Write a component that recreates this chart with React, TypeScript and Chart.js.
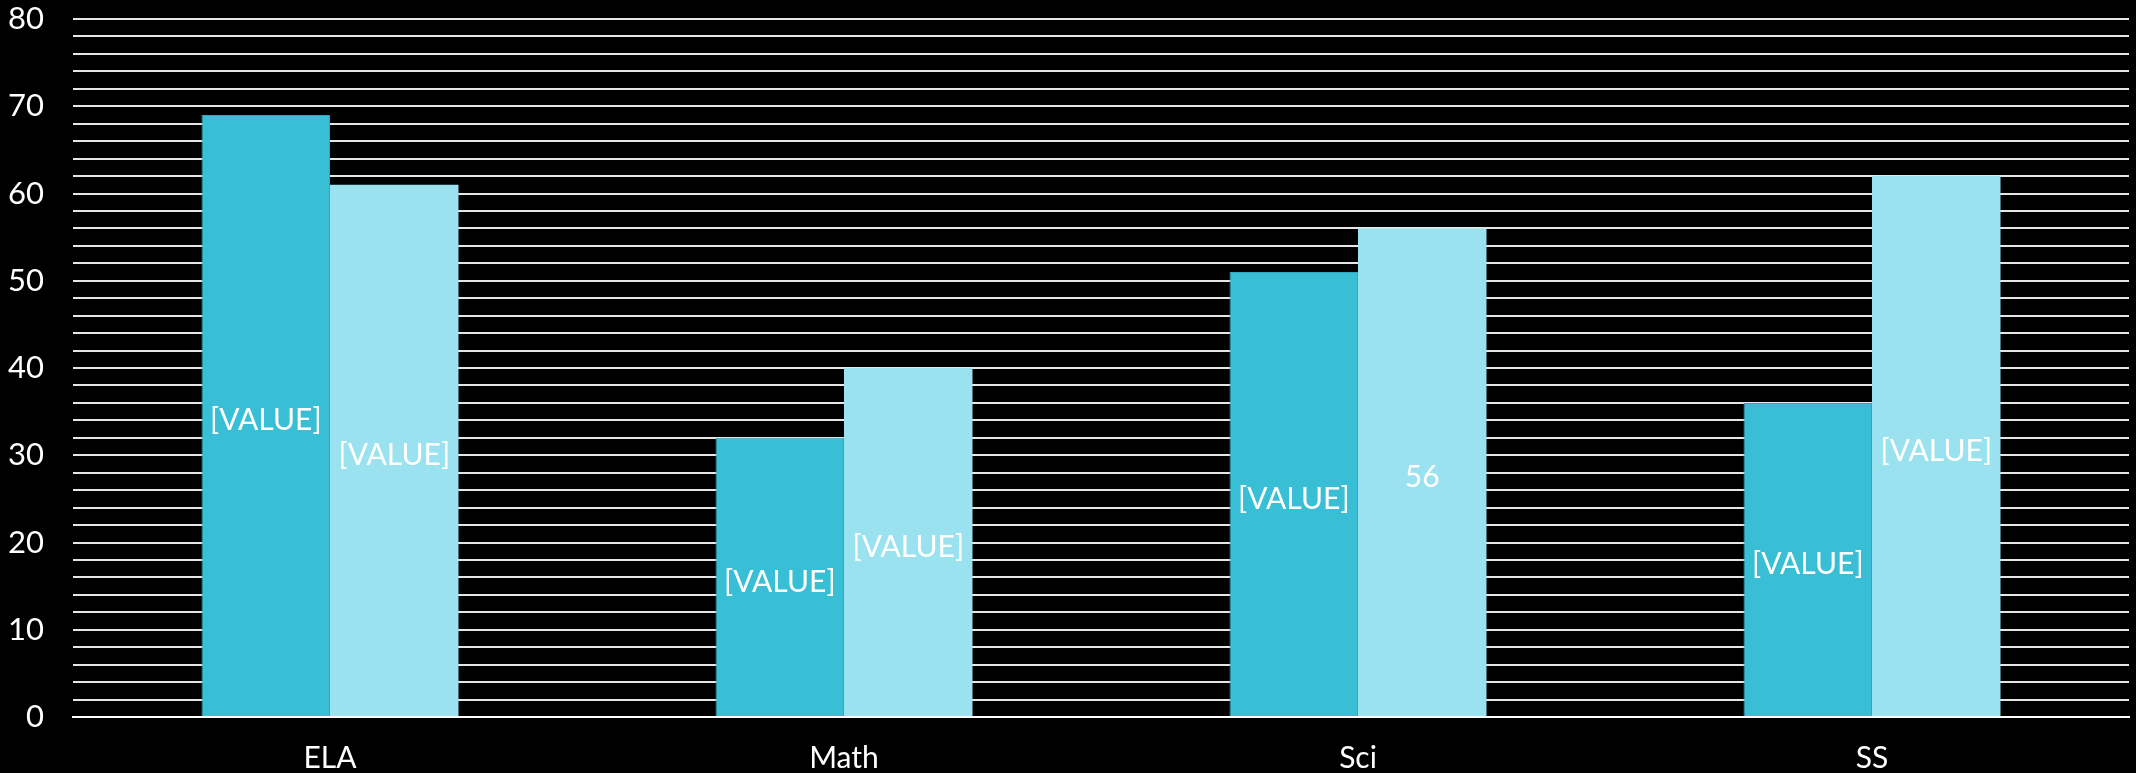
import React, { useEffect, useRef } from "react";
import { Chart, registerables } from "chart.js";

Chart.register(...registerables);

const categories = ["ELA", "Math", "Sci", "SS"];
const series1Values = [69, 32, 51, 36];
const series2Values = [61, 40, 56, 62];
const series1Labels = ["[VALUE]", "[VALUE]", "[VALUE]", "[VALUE]"];
const series2Labels = ["[VALUE]", "[VALUE]", "56", "[VALUE]"];
const yMin = 0;
const yMax = 80;
const yStep = 2;
const yLabelStep = 10;

const FONT = "Lato, 'Open Sans', sans-serif";

const barLabelPlugin = {
  id: "barLabels",
  afterDatasetsDraw(chart: any) {
    const ctx = chart.ctx;
    const allLabels = [series1Labels, series2Labels];
    ctx.save();
    ctx.font = `30px ${FONT}`;
    ctx.fillStyle = "#ffffff";
    ctx.textAlign = "center";
    ctx.textBaseline = "middle";
    chart.data.datasets.forEach((_ds: any, di: number) => {
      const meta = chart.getDatasetMeta(di);
      meta.data.forEach((el: any, i: number) => {
        const y = (el.y + el.base) / 2 + 5;
        ctx.fillText(allLabels[di][i], el.x, y);
      });
    });
    ctx.restore();
  },
};

export default function App() {
  const canvasRef = useRef<HTMLCanvasElement | null>(null);

  useEffect(() => {
    document.body.style.margin = "0";
    document.body.style.background = "#000";
    const canvas = canvasRef.current;
    if (!canvas) return;
    const chart = new Chart(canvas, {
      type: "bar",
      data: {
        labels: categories,
        datasets: [
          {
            label: "Series 1",
            data: series1Values,
            backgroundColor: "#38BFD6",
            borderColor: "#2EA8BE",
            borderWidth: 1,
            categoryPercentage: 0.5,
            barPercentage: 1,
          },
          {
            label: "Series 2",
            data: series2Values,
            backgroundColor: "#9BE2F0",
            borderWidth: 0,
            categoryPercentage: 0.5,
            barPercentage: 1,
          },
        ],
      },
      options: {
        animation: false,
        responsive: false,
        maintainAspectRatio: false,
        layout: { padding: { left: 0, right: 7, top: 19, bottom: 0 } },
        plugins: {
          legend: { display: false },
          tooltip: { enabled: false },
        },
        scales: {
          x: {
            grid: { display: false, drawTicks: false },
            border: { display: true, color: "#ffffff", width: 2 },
            ticks: {
              color: "#ffffff",
              font: { family: FONT, size: 30 },
              padding: 23,
            },
            afterFit(scale: any) {
              scale.height = 56;
              scale.paddingLeft = 0;
              scale.paddingRight = 0;
            },
          },
          y: {
            min: yMin,
            max: yMax,
            grid: { color: "#e6e6e6", lineWidth: 2, drawTicks: false },
            border: { display: false },
            ticks: {
              stepSize: yStep,
              autoSkip: false,
              color: "#ffffff",
              padding: 29,
              font: { family: FONT, size: 31 },
              callback: (v: any) => (Number(v) % yLabelStep === 0 ? String(v) : ""),
            },
            afterFit(scale: any) {
              scale.width = 73;
              scale.paddingTop = 0;
              scale.paddingBottom = 0;
            },
          },
        },
      },
      plugins: [barLabelPlugin],
    });
    return () => chart.destroy();
  }, []);

  return (
    <div style={{ position: "fixed", left: 0, top: 0, width: 2136, height: 773, background: "#000" }}>
      <canvas ref={canvasRef} width={2136} height={773} style={{ display: "block" }} />
    </div>
  );
}
